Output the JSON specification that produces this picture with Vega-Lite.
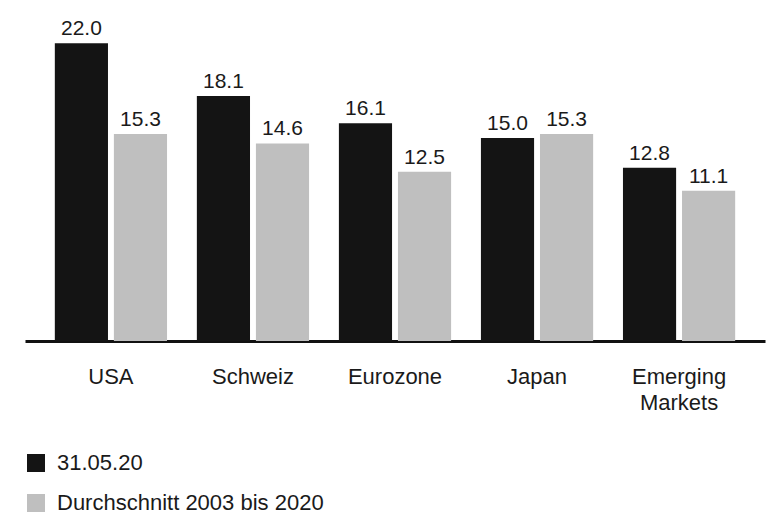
{
  "$schema": "https://vega.github.io/schema/vega-lite/v6.json",
  "autosize": "none",
  "width": 740,
  "height": 341,
  "padding": {"left": 25, "top": 0, "right": 18, "bottom": 181},
  "background": "white",
  "config": {
    "view": {"stroke": null},
    "font": "Liberation Sans"
  },
  "data": {
    "values": [
      {"region": "USA", "series": "31.05.20", "value": 22.0},
      {"region": "USA", "series": "Durchschnitt 2003 bis 2020", "value": 15.3},
      {"region": "Schweiz", "series": "31.05.20", "value": 18.1},
      {"region": "Schweiz", "series": "Durchschnitt 2003 bis 2020", "value": 14.6},
      {"region": "Eurozone", "series": "31.05.20", "value": 16.1},
      {"region": "Eurozone", "series": "Durchschnitt 2003 bis 2020", "value": 12.5},
      {"region": "Japan", "series": "31.05.20", "value": 15.0},
      {"region": "Japan", "series": "Durchschnitt 2003 bis 2020", "value": 15.3},
      {"region": "Emerging Markets", "series": "31.05.20", "value": 12.8},
      {"region": "Emerging Markets", "series": "Durchschnitt 2003 bis 2020", "value": 11.1}
    ]
  },
  "encoding": {
    "x": {
      "field": "region",
      "type": "nominal",
      "sort": null,
      "scale": {"paddingInner": 0.21, "paddingOuter": 0.21},
      "axis": {
        "title": null,
        "domainColor": "#111111",
        "domainWidth": 3,
        "ticks": false,
        "tickSize": 0,
        "labelAngle": 0,
        "labelFontSize": 22,
        "labelColor": "#1a1a1a",
        "labelPadding": 25,
        "labelBaseline": "top",
        "labelLineHeight": 26,
        "labelExpr": "datum.label == 'Emerging Markets' ? ['Emerging', 'Markets'] : datum.label"
      }
    },
    "xOffset": {
      "field": "series",
      "type": "nominal",
      "scale": {"paddingInner": 0.1, "paddingOuter": 0}
    },
    "y": {
      "field": "value",
      "type": "quantitative",
      "scale": {"domain": [0, 25.2], "nice": false},
      "axis": null
    }
  },
  "layer": [
    {
      "mark": {"type": "bar"},
      "encoding": {
        "color": {
          "field": "series",
          "type": "nominal",
          "scale": {"domain": ["31.05.20", "Durchschnitt 2003 bis 2020"], "range": ["#141414", "#bfbfbf"]},
          "legend": {
            "title": null,
            "orient": "none",
            "legendX": 0,
            "legendY": 452,
            "direction": "vertical",
            "symbolType": "square",
            "symbolSize": 324,
            "symbolStrokeWidth": 0,
            "symbolOpacity": 1,
            "labelFontSize": 22,
            "labelColor": "#1a1a1a",
            "labelOffset": 10,
            "labelLimit": 500,
            "rowPadding": 18,
            "padding": 0
          }
        }
      }
    },
    {
      "mark": {"type": "text", "baseline": "alphabetic", "dy": -8, "fontSize": 21, "color": "#1a1a1a"},
      "encoding": {
        "text": {"field": "value", "type": "quantitative", "format": ".1f"}
      }
    }
  ]
}
